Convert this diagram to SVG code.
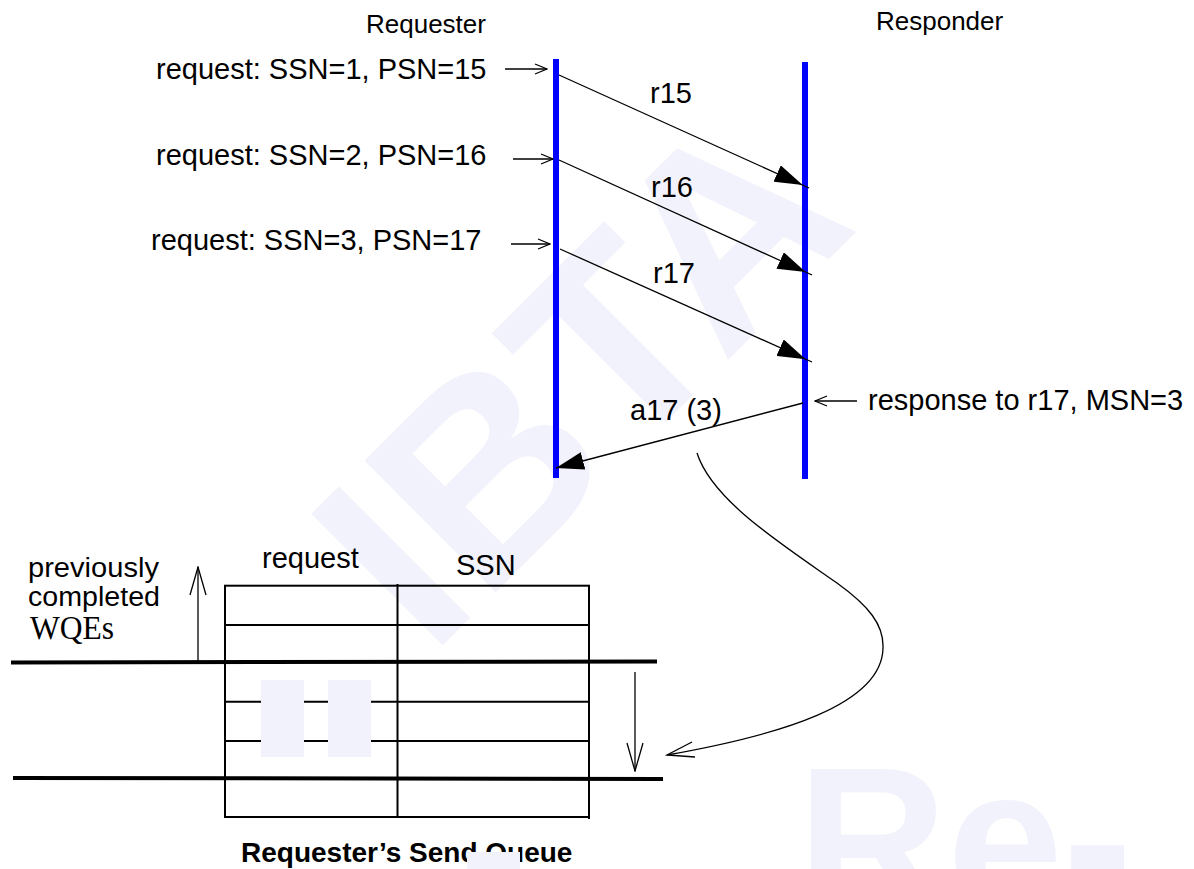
<svg xmlns="http://www.w3.org/2000/svg" width="1194" height="869" viewBox="0 0 1194 869">
<style>
  .lbl { font-family: "Liberation Sans", Arial, sans-serif; font-size: 29px; fill: #000; }
  .small { font-family: "Liberation Sans", Arial, sans-serif; font-size: 27px; fill: #000; }
  .hdr { font-family: "Liberation Sans", Arial, sans-serif; font-size: 26px; fill: #000; }
  .serif { font-family: "Liberation Serif", "Times New Roman", serif; font-size: 33px; fill: #000; }
  .bold { font-family: "Liberation Sans", Arial, sans-serif; font-size: 28px; font-weight: bold; fill: #000; }
  .wm { font-family: "Liberation Sans", Arial, sans-serif; font-weight: bold; fill: #f2f2fc; }
  .life { stroke: #0000ff; stroke-width: 6; fill: none; }
  .msg { stroke: #000; stroke-width: 1.3; fill: none; }
  .tbl { stroke: #000; stroke-width: 2; fill: none; }
  .thick { stroke: #000; stroke-width: 4; fill: none; }
  .wmrect { fill: #f2f2fc; }
</style>
<defs>
  <marker id="solid" markerUnits="userSpaceOnUse" viewBox="0 0 35 18" refX="35" refY="9" markerWidth="35" markerHeight="18" orient="auto">
    <path d="M0,0 L28,9 L0,18 Z" fill="#000"/>
  </marker>
  <marker id="solidTip" markerUnits="userSpaceOnUse" viewBox="0 0 28 18" refX="28" refY="9" markerWidth="28" markerHeight="18" orient="auto">
    <path d="M0,0 L28,9 L0,18 Z" fill="#000"/>
  </marker>
  <marker id="open" markerUnits="userSpaceOnUse" viewBox="0 0 14 12" refX="13" refY="6" markerWidth="14" markerHeight="12" orient="auto">
    <path d="M1,1 L13,6 L1,11" fill="none" stroke="#000" stroke-width="1.3"/>
  </marker>
  <marker id="openLong" markerUnits="userSpaceOnUse" viewBox="0 0 30 18" refX="29" refY="9" markerWidth="30" markerHeight="18" orient="auto">
    <path d="M1,1 L29,9 L1,17" fill="none" stroke="#000" stroke-width="1.3"/>
  </marker>
</defs>

<g id="watermark">
  <text class="wm" font-size="270" transform="translate(430,658) rotate(-45)">IBTA</text>
  <text class="wm" font-size="208" x="797" y="912">Re-</text>
</g>

<g id="requester">
  <text class="hdr" x="366" y="33">Requester</text>
  <line class="life" x1="556" y1="59" x2="556" y2="478"/>
</g>
<g id="responder">
  <text class="hdr" x="876" y="30">Responder</text>
  <line class="life" x1="805" y1="62" x2="805" y2="479"/>
</g>

<g id="labels">
  <text class="lbl" x="156" y="79">request: SSN=1, PSN=15</text>
  <text class="lbl" x="156" y="165">request: SSN=2, PSN=16</text>
  <text class="lbl" x="151" y="250">request: SSN=3, PSN=17</text>
  <text class="lbl" x="650" y="103">r15</text>
  <text class="lbl" x="651" y="197">r16</text>
  <text class="lbl" x="653" y="283">r17</text>
  <text class="lbl" x="630" y="420">a17 (3)</text>
  <text class="lbl" x="868" y="410">response to r17, MSN=3</text>
</g>

<g id="connectors">
  <line class="msg" x1="505" y1="69" x2="547" y2="69" marker-end="url(#open)"/>
  <line class="msg" x1="513" y1="159" x2="553" y2="159" marker-end="url(#open)"/>
  <line class="msg" x1="511" y1="244" x2="550" y2="244" marker-end="url(#open)"/>
  <line class="msg" x1="559" y1="75" x2="809" y2="188" marker-end="url(#solid)"/>
  <line class="msg" x1="559" y1="160" x2="812" y2="275" marker-end="url(#solid)"/>
  <line class="msg" x1="560" y1="249" x2="812" y2="362" marker-end="url(#solid)"/>
  <line class="msg" x1="803" y1="403" x2="556" y2="468" marker-end="url(#solidTip)"/>
  <line class="msg" x1="857" y1="401" x2="815" y2="401" marker-end="url(#open)"/>
  <path class="msg" d="M697,453 C712,500 780,543 837,583 C869,606 884,625 883,648 C882,705 780,735 667,755"/>
  <polyline class="msg" points="692,742 667,755 695,757"/>
  <line class="msg" x1="198" y1="662" x2="198" y2="567" marker-end="url(#openLong)"/>
  <line class="msg" x1="635" y1="672" x2="635" y2="771" marker-end="url(#openLong)"/>
</g>

<g id="send-queue">
  <text class="lbl" x="262" y="568">request</text>
  <text class="lbl" x="456" y="575">SSN</text>
  <text class="small" x="28" y="577" textLength="131" lengthAdjust="spacingAndGlyphs">previously</text>
  <text class="small" x="28" y="606" textLength="132" lengthAdjust="spacingAndGlyphs">completed</text>
  <text class="serif" x="30" y="639" textLength="84" lengthAdjust="spacingAndGlyphs">WQEs</text>
  <rect class="tbl" x="225" y="585.7" width="364" height="231.3"/>
  <line class="tbl" x1="397.5" y1="584" x2="397.5" y2="817"/>
  <line class="tbl" x1="589" y1="817" x2="589" y2="819"/>
  <line class="tbl" x1="225" y1="625" x2="589" y2="625"/>
  <line class="tbl" x1="225" y1="701.7" x2="589" y2="701.7"/>
  <line class="tbl" x1="225" y1="741" x2="589" y2="741"/>
  <line class="thick" x1="11" y1="662.5" x2="657" y2="661.5"/>
  <line class="thick" x1="13" y1="778" x2="663" y2="779"/>
  <rect class="wmrect" x="261" y="680" width="43" height="77"/>
  <rect class="wmrect" x="328" y="680" width="43" height="77"/>
  <text class="bold" x="241" y="862">Requester’s Send Queue</text>
  <rect class="wmrect" x="467" y="852" width="53" height="17"/>
</g>
</svg>
